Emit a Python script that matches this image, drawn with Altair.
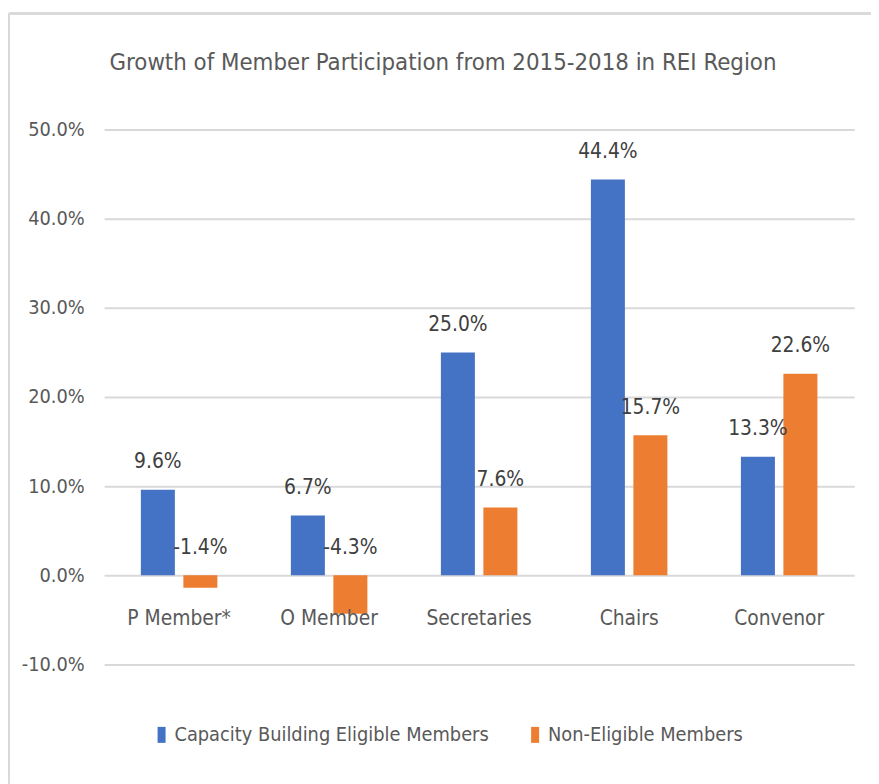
import altair as alt
import pandas as pd

categories = ["P Member*", "O Member", "Secretaries", "Chairs", "Convenor"]
series_names = ["Capacity Building Eligible Members", "Non-Eligible Members"]
cb_values = [0.096, 0.067, 0.250, 0.444, 0.133]
ne_values = [-0.014, -0.043, 0.076, 0.157, 0.226]
colors = ["#4472C4", "#ED7D31"]
y_ticks = [-0.1, 0.0, 0.1, 0.2, 0.3, 0.4, 0.5]
title_text = "Growth of Member Participation from 2015-2018  in REI Region"

FONT = "DejaVu Sans Condensed, Liberation Sans Narrow, sans-serif"

rows = []
for i, c in enumerate(categories):
    for s, vals in zip(series_names, [cb_values, ne_values]):
        v = vals[i]
        rows.append({"Category": c, "Series": s, "Value": v,
                     "LabelY": max(v, 0.0), "Label": f"{v * 100:.1f}%"})
df = pd.DataFrame(rows)
cat_df = pd.DataFrame({"Category": categories})
title_df = pd.DataFrame({"Title": [title_text]})

x_enc = alt.X("Category:N", sort=categories, axis=None,
              scale=alt.Scale(paddingInner=0.49, paddingOuter=0.245))
xo_enc = alt.XOffset("Series:N", sort=series_names,
                     scale=alt.Scale(paddingInner=0.2))
y_scale = alt.Scale(domain=[-0.1, 0.5], nice=False)

bars = alt.Chart(df).mark_bar().encode(
    x=x_enc,
    xOffset=xo_enc,
    y=alt.Y("Value:Q", scale=y_scale, title=None,
            axis=alt.Axis(values=y_ticks, format=".1%", domain=False, ticks=False,
                          labelExpr="replace(datum.label, '\u2212', '-')",
                          labelPadding=20, labelFontSize=20, labelColor="#595959",
                          labelFont=FONT, gridColor="#d9d9d9", gridWidth=2)),
    color=alt.Color("Series:N", sort=series_names,
                    scale=alt.Scale(domain=series_names, range=colors),
                    legend=alt.Legend(title=None, orient="none", direction="horizontal",
                                      legendX=48, legendY=601,
                                      symbolType="M-0.5,-1H0.5V1H-0.5Z",
                                      symbolSize=260, symbolStrokeWidth=0,
                                      labelFont=FONT, labelFontSize=20,
                                      labelLimit=0,
                                      labelColor="#595959", columnPadding=36,
                                      labelOffset=3)),
)

labels = alt.Chart(df).mark_text(baseline="bottom", dy=-18, fontSize=21,
                                 font=FONT, color="#404040").encode(
    x=x_enc,
    xOffset=xo_enc,
    y=alt.Y("LabelY:Q", scale=y_scale),
    text="Label:N",
)

cat_labels = alt.Chart(cat_df).mark_text(baseline="middle", dy=44, fontSize=21,
                                         font=FONT, color="#595959").encode(
    x=x_enc,
    y=alt.value(450),
    text="Category:N",
)

title = alt.Chart(title_df).mark_text(baseline="middle", fontSize=24, font=FONT,
                                      color="#595959").encode(
    x=alt.value(342), y=alt.value(-67), text="Title:N")

frame_left = alt.Chart(cat_df).mark_rule(color="#d9d9d9", strokeWidth=2).encode(
    x=alt.value(-96), y=alt.value(-117), y2=alt.value(660))
frame_top = alt.Chart(cat_df).mark_rule(color="#d9d9d9", strokeWidth=2).encode(
    x=alt.value(-96), x2=alt.value(780), y=alt.value(-117))

chart = alt.layer(frame_left, frame_top, title, bars, labels, cat_labels).properties(
    width=757, height=540,
    padding={"left": 97, "top": 119, "right": 17, "bottom": 117},
    autosize=alt.AutoSizeParams(type="none"),
).configure_view(stroke=None)

chart.save("out.html", embed_options={"renderer": "svg", "actions": False})
